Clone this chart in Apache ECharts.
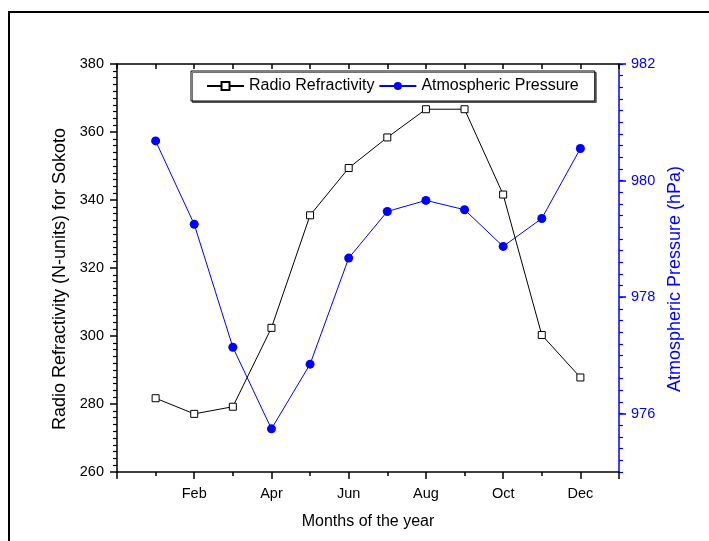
<!DOCTYPE html>
<html>
<head>
<meta charset="utf-8">
<title>Radio Refractivity and Atmospheric Pressure — Sokoto</title>
<script src="https://cdn.jsdelivr.net/npm/echarts@6/dist/echarts.min.js"></script>
<style>
  html, body { margin: 0; padding: 0; background: #fff; }
  #chart { width: 709px; height: 541px; }
</style>
</head>
<body>
<div id="chart"></div>
<script>
// Monthly means for Sokoto
const months = ['Jan', 'Feb', 'Mar', 'Apr', 'May', 'Jun', 'Jul', 'Aug', 'Sep', 'Oct', 'Nov', 'Dec'];
const monthIndex = [1, 2, 3, 4, 5, 6, 7, 8, 9, 10, 11, 12];
const refractivity = [281.7, 277.1, 279.2, 302.4, 335.5, 349.4, 358.4, 366.7, 366.7, 341.6, 300.3, 287.8];
const pressure = [980.68, 979.25, 977.14, 975.74, 976.85, 978.67, 979.47, 979.66, 979.50, 978.87, 979.35, 980.55];
const pressureTicks = [976, 978, 980, 982];

const FONT = '"Liberation Sans", Arial, sans-serif';
const BLUE = '#0000ff';
const GRID_W = 502;

const refData = monthIndex.map((m, i) => [m, refractivity[i]]);
const presData = monthIndex.map((m, i) => [m, pressure[i]]);

const chart = echarts.init(document.getElementById('chart'), null, { renderer: 'canvas' });

chart.setOption({
  animation: false,
  backgroundColor: '#fff',
  textStyle: { fontFamily: FONT },
  graphic: [{
    type: 'rect',
    silent: true,
    shape: { x: 9, y: 12, width: 1000, height: 1000 },
    style: { fill: 'none', stroke: '#000', lineWidth: 2 }
  }],
  grid: { left: 117, top: 64, width: GRID_W, height: 408, containLabel: false },
  legend: {
    left: 191,
    top: 71,
    orient: 'horizontal',
    padding: [7, 16, 7, 15],
    itemGap: 4,
    itemWidth: 37,
    itemHeight: 10,
    backgroundColor: '#fff',
    borderColor: '#000',
    borderWidth: 1,
    shadowColor: 'rgba(0,0,0,0.55)',
    shadowOffsetX: 1.5,
    shadowOffsetY: 1.5,
    shadowBlur: 0,
    selectedMode: false,
    textStyle: { fontFamily: FONT, fontSize: 16, color: '#000' },
    data: ['Radio Refractivity', 'Atmospheric Pressure']
  },
  xAxis: [{
    type: 'value',
    position: 'bottom',
    min: 0,
    max: 13,
    interval: 2,
    axisLine: { show: true, onZero: false, lineStyle: { color: '#000', width: 1.5 } },
    axisTick: { show: true, length: 7, lineStyle: { color: '#000', width: 1.5 } },
    minorTick: { show: true, splitNumber: 2, length: 4, lineStyle: { color: '#000', width: 1.5 } },
    splitLine: { show: false },
    minorSplitLine: { show: false },
    axisLabel: {
      margin: 14,
      color: '#000',
      fontFamily: FONT,
      fontSize: 14.5,
      formatter: v => (v >= 1 && v <= 12 && v % 2 === 0) ? months[v - 1] : ''
    },
    name: 'Months of the year',
    nameLocation: 'middle',
    nameGap: 42,
    nameTextStyle: { fontFamily: FONT, fontSize: 16, color: '#000' }
  }, {
    type: 'value',
    position: 'top',
    min: 0,
    max: 13,
    interval: 1,
    axisLine: { show: true, onZero: false, lineStyle: { color: '#000', width: 1.5 } },
    axisTick: { show: true, inside: true, length: 5, lineStyle: { color: '#000', width: 1.5 } },
    axisLabel: { show: false },
    splitLine: { show: false }
  }],
  yAxis: [{
    type: 'value',
    position: 'left',
    min: 260,
    max: 380,
    interval: 20,
    axisLine: { show: true, onZero: false, lineStyle: { color: '#000', width: 1.5 } },
    axisTick: { show: true, length: 7, lineStyle: { color: '#000', width: 1.5 } },
    minorTick: { show: true, splitNumber: 10, length: 4, lineStyle: { color: '#000', width: 1.2 } },
    splitLine: { show: false },
    axisLabel: { margin: 13, color: '#000', fontFamily: FONT, fontSize: 14.5 },
    name: 'Radio Refractivity (N-units) for Sokoto',
    nameLocation: 'middle',
    nameGap: 46,
    nameTextStyle: { fontFamily: FONT, fontSize: 18, color: '#000', padding: [0, 22, 0, 0] }
  }, {
    type: 'value',
    position: 'right',
    min: 975,
    max: 982,
    interval: 0.2,
    axisLine: { show: true, onZero: false, lineStyle: { color: BLUE, width: 1.5 } },
    axisTick: { show: true, length: 4, lineStyle: { color: BLUE, width: 1.2 } },
    splitLine: { show: false },
    axisLabel: { customValues: pressureTicks, margin: 12, color: BLUE, fontFamily: FONT, fontSize: 14.5 },
    name: 'Atmospheric Pressure (hPa)',
    nameLocation: 'middle',
    nameGap: 45,
    nameTextStyle: { fontFamily: FONT, fontSize: 18, color: BLUE, padding: [0, 22, 0, 0] }
  }, {
    // long ticks at the labelled pressure values, shifted across to the right edge
    type: 'value',
    position: 'left',
    offset: -GRID_W,
    min: 975,
    max: 982,
    axisLine: { show: false },
    axisTick: { show: true, inside: true, customValues: pressureTicks, length: 7, lineStyle: { color: BLUE, width: 1.5 } },
    axisLabel: { show: false },
    splitLine: { show: false }
  }],
  series: [{
    name: 'Radio Refractivity',
    type: 'line',
    xAxisIndex: 0,
    yAxisIndex: 0,
    data: refData,
    symbol: 'rect',
    symbolSize: 7,
    itemStyle: { color: '#fff', borderColor: '#000', borderWidth: 1 },
    lineStyle: { color: '#000', width: 1 },
    emphasis: { disabled: true },
    z: 3
  }, {
    name: 'Atmospheric Pressure',
    type: 'line',
    xAxisIndex: 0,
    yAxisIndex: 1,
    data: presData,
    symbol: 'circle',
    symbolSize: 9,
    itemStyle: { color: BLUE },
    lineStyle: { color: BLUE, width: 1 },
    emphasis: { disabled: true },
    z: 2
  }]
});
</script>
</body>
</html>
